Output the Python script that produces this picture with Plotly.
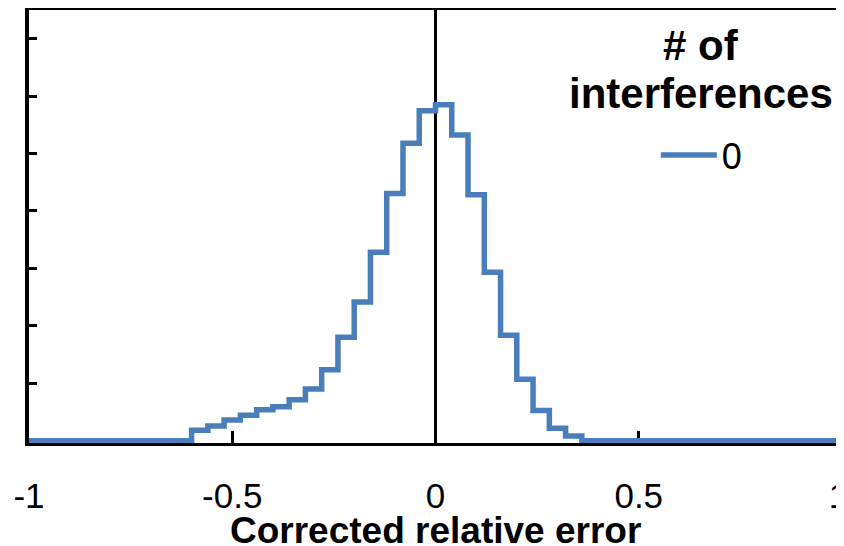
import plotly.graph_objects as go

# step histogram: left bin edges and bin heights (fraction of samples)
bin_edges = [-1.0, -0.60, -0.56, -0.52, -0.48, -0.44, -0.40, -0.36, -0.32, -0.28,
             -0.24, -0.20, -0.16, -0.12, -0.08, -0.04, 0.00, 0.04, 0.08, 0.12,
             0.16, 0.20, 0.24, 0.28, 0.32, 0.36, 1.0]
counts = [0.0, 0.0036, 0.0051, 0.0072, 0.0089, 0.0108, 0.0118, 0.0143, 0.0180, 0.0247,
          0.0360, 0.0483, 0.0656, 0.0861, 0.1036, 0.1149, 0.1170, 0.1065, 0.0857, 0.0587,
          0.0367, 0.0214, 0.0105, 0.0043, 0.0016, 0.0, 0.0]

x_ticks = [-1, -0.5, 0, 0.5, 1]
x_labels = ["-1", "-0.5", "0", "0.5", "1\u2009"]  # thin space nudges the edge label inward

series_name = "0"
legend_title = ["<b># of</b>", "<b>interferences</b>"]
x_title = "<b>Corrected relative error</b>"

font = "Liberation Sans, Arial, sans-serif"

fig = go.Figure()
fig.add_trace(go.Scatter(
    x=bin_edges, y=counts, mode="lines", line_shape="hv",
    line=dict(color="#4A7EBB", width=5.5), name=series_name,
))

# page body adds an 8px offset, so margins are trimmed on the left/top
fig.update_layout(
    width=844, height=546,
    margin=dict(l=21, r=10, t=2, b=111, autoexpand=False),
    plot_bgcolor="white", paper_bgcolor="white",
    font=dict(family=font, color="black", size=36),
    showlegend=True,
    legend=dict(
        font=dict(size=36, family=font),
        x=0.771, xanchor="left", y=0.665, yanchor="middle",
        bgcolor="rgba(0,0,0,0)", itemwidth=56,
    ),
)

# legend heading, two centred lines over the entry
for txt, ypos in zip(legend_title, [0.919, 0.808]):
    fig.add_annotation(
        text=txt, xref="paper", yref="paper", x=0.827, y=ypos,
        xanchor="center", yanchor="middle", showarrow=False,
        font=dict(size=42, family=font, color="black"),
    )
# x axis title
fig.add_annotation(
    text=x_title, xref="paper", yref="paper", x=0.5, y=-0.201,
    xanchor="center", yanchor="middle", showarrow=False,
    font=dict(size=37, family=font, color="black"),
)

fig.update_xaxes(
    range=[-1, 1], tickvals=x_ticks, ticktext=x_labels,
    ticks="inside", ticklen=12, tickwidth=3, tickcolor="black",
    showline=True, linecolor="black", linewidth=3, mirror=True,
    showgrid=False, zeroline=True, zerolinecolor="black", zerolinewidth=3,
    layer="below traces", ticklabelstandoff=20, automargin=False,
    ticklabeloverflow="allow",
    tickfont=dict(size=35, family=font),
)
fig.update_yaxes(
    range=[-0.0008, 0.15], dtick=0.02, tick0=0,
    ticks="inside", ticklen=8, tickwidth=3, tickcolor="black",
    showticklabels=False, automargin=False,
    showline=True, linecolor="black", linewidth=3.5, mirror=True,
    showgrid=False, zeroline=False, layer="below traces",
)

fig.write_html("out.html")
